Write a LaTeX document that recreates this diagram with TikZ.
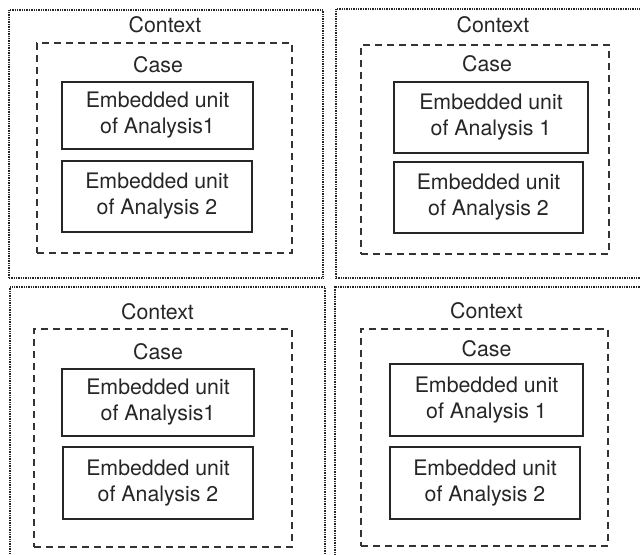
\documentclass[tikz,border=0pt]{standalone}
\usepackage{fontspec}
\setmainfont{TeX Gyre Heros}
\begin{document}
\begin{tikzpicture}[x=0.75pt,y=-0.75pt,font=\fontsize{16}{19.5}\selectfont,
 every node/.style={text=black!85},
 sz/.style 2 args={minimum width=#1*0.75pt,minimum height=#2*0.75pt,
 inner sep=0pt,outer sep=0pt},
 ctxbox/.style={draw=black!85,line width=0.9pt,dash pattern=on 0.5pt off 0.8pt},
 casebox/.style={draw=black!80,line width=1pt,dash pattern=on 5pt off 4pt},
 unitbox/.style={draw=black!85,line width=1.1pt,align=center},
 lbl/.style={anchor=base}]
 % page frame, the right and bottom boxes run off it
 \path[use as bounding box,clip] (0,0) rectangle (640,555);
 % top left
 \node[ctxbox,sz={314}{268}] (ctx-tl) at (166,144) {};
 \node[lbl] (ctx-tl-lbl) at (165,33) {Context};
 \node[casebox,sz={255}{210}] (case-tl) at (164.5,148) {};
 \node[lbl] (case-tl-lbl) at (158,73) {Case};
 \node[unitbox,sz={191}{67}] (unit-tl-1) at (157.5,115.5) {Embedded unit\\of Analysis1};
 \node[unitbox,sz={190}{71}] (unit-tl-2) at (157,196.5) {Embedded unit\\of Analysis 2};
 % top right
 \node[ctxbox,sz={330}{269}] (ctx-tr) at (501,143.5) {};
 \node[lbl] (ctx-tr-lbl) at (493,33) {Context};
 \node[casebox,sz={248}{209}] (case-tr) at (485,149.5) {};
 \node[lbl] (case-tr-lbl) at (487,72) {Case};
 \node[unitbox,sz={194}{71}] (unit-tr-1) at (491,117.5) {Embedded unit\\of Analysis 1};
 \node[unitbox,sz={189}{71}] (unit-tr-2) at (488.5,197.5) {Embedded unit\\of Analysis 2};
 % bottom left
 \node[ctxbox,sz={315}{333}] (ctx-bl) at (167.5,453.5) {};
 \node[lbl] (ctx-bl-lbl) at (157.5,320) {Context};
 \node[casebox,sz={258}{218}] (case-bl) at (163,438) {};
 \node[lbl] (case-bl-lbl) at (158,360) {Case};
 \node[unitbox,sz={192}{67}] (unit-bl-1) at (158,402.5) {Embedded unit\\of Analysis1};
 \node[unitbox,sz={190}{72}] (unit-bl-2) at (158,483) {Embedded unit\\of Analysis 2};
 % bottom right
 \node[ctxbox,sz={331}{333}] (ctx-br) at (500.5,453.5) {};
 \node[lbl] (ctx-br-lbl) at (486.5,319) {Context};
 \node[casebox,sz={247}{217}] (case-br) at (484.5,437.5) {};
 \node[lbl] (case-br-lbl) at (486.5,357) {Case};
 \node[unitbox,sz={193}{72}] (unit-br-1) at (486.5,400) {Embedded unit\\of Analysis 1};
 \node[unitbox,sz={190}{72}] (unit-br-2) at (485,483) {Embedded unit\\of Analysis 2};
\end{tikzpicture}
\end{document}
